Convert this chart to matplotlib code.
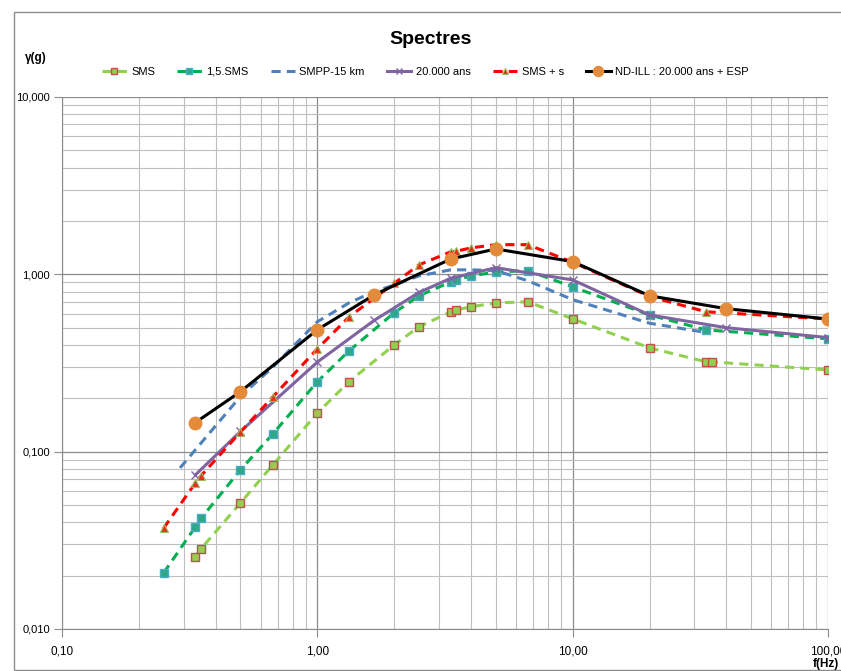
import matplotlib.pyplot as plt
from matplotlib.ticker import FixedLocator, FuncFormatter, LogLocator, NullFormatter
from matplotlib.patches import Rectangle

plt.rcParams['font.family'] = ['Liberation Sans', 'DejaVu Sans']

# SMS
f_sms = [0.333, 0.35, 0.5, 0.67, 1.0, 1.33, 2.0, 2.5, 3.33, 3.5, 4.0, 5.0, 6.67, 10.0, 20.0, 33.3, 35.0, 100.0]
g_sms = [0.0255, 0.0283, 0.0514, 0.0843, 0.165, 0.248, 0.40, 0.506, 0.614, 0.63, 0.656, 0.69, 0.70, 0.561, 0.385, 0.321, 0.321, 0.289]

# 1,5.SMS
f_sms15 = [0.25, 0.333, 0.35, 0.5, 0.67, 1.0, 1.33, 2.0, 2.5, 3.33, 3.5, 4.0, 5.0, 6.67, 10.0, 20.0, 33.3, 100.0]
g_sms15 = [0.0207, 0.0377, 0.042, 0.079, 0.126, 0.248, 0.37, 0.607, 0.756, 0.907, 0.93, 0.98, 1.03, 1.05, 0.85, 0.59, 0.486, 0.433]

# SMPP-15 km
f_smpp = [0.29, 0.5, 0.67, 1.0, 1.33, 1.67, 2.0, 2.5, 3.33, 4.0, 5.0, 6.67, 10.0, 20.0, 33.3]
g_smpp = [0.081, 0.205, 0.30, 0.54, 0.69, 0.80, 0.87, 0.98, 1.06, 1.06, 1.05, 0.92, 0.72, 0.53, 0.47]

# 20.000 ans
f_20k = [0.333, 0.5, 1.0, 1.67, 2.5, 3.33, 5.0, 10.0, 20.0, 40.0, 100.0]
g_20k = [0.074, 0.13, 0.32, 0.55, 0.79, 0.95, 1.09, 0.93, 0.59, 0.50, 0.44]

# SMS + s
f_smss = [0.25, 0.333, 0.35, 0.5, 0.67, 1.0, 1.33, 2.0, 2.5, 3.33, 3.5, 4.0, 5.0, 6.67, 10.0, 20.0, 33.3, 100.0]
g_smss = [0.037, 0.0667, 0.073, 0.129, 0.204, 0.38, 0.575, 0.89, 1.13, 1.34, 1.35, 1.41, 1.47, 1.47, 1.17, 0.75, 0.615, 0.56]

# ND-ILL : 20.000 ans + ESP
f_nd = [0.333, 0.5, 1.0, 1.67, 3.33, 5.0, 10.0, 20.0, 40.0, 100.0]
g_nd = [0.146, 0.218, 0.487, 0.766, 1.22, 1.39, 1.18, 0.757, 0.64, 0.56]

fig = plt.figure(figsize=(8.41, 6.71), dpi=100)
fig.patches.append(Rectangle((14 / 841, 1 / 671), 1.0, 1 - 13 / 671, transform=fig.transFigure,
                             fill=False, edgecolor='#8c8c8c', linewidth=1.0))
ax = fig.add_axes([62 / 841, 1 - 629 / 671, (828 - 62) / 841, (629 - 97) / 671])

ax.plot(f_sms, g_sms, linestyle=(0, (3, 2)), color='#92D050', linewidth=2.2,
        marker='s', markersize=6, markerfacecolor='#92D050', markeredgecolor='#C0504D',
        markeredgewidth=1.0, label='SMS')
ax.plot(f_sms15, g_sms15, linestyle=(0, (3, 2)), color='#00B050', linewidth=2.2,
        marker='s', markersize=6, markerfacecolor='#2FA88A', markeredgecolor='#4BACC6',
        markeredgewidth=1.0, label='1,5.SMS')
ax.plot(f_smpp, g_smpp, linestyle=(0, (3, 2)), color='#4F81BD', linewidth=2.2, label='SMPP-15 km')
ax.plot(f_20k, g_20k, linestyle='-', color='#8064A2', linewidth=2.2,
        marker='x', markersize=6, markeredgecolor='#8064A2', label='20.000 ans')
ax.plot(f_smss, g_smss, linestyle=(0, (3, 2)), color='#FF0000', linewidth=2.2,
        marker='^', markersize=6, markerfacecolor='#E03020', markeredgecolor='#9BBB59',
        markeredgewidth=0.8, label='SMS + s')
ax.plot(f_nd, g_nd, linestyle='-', color='black', linewidth=2.2,
        marker='o', markersize=9, markerfacecolor='#E38B3A', markeredgecolor='#E38B3A',
        label='ND-ILL : 20.000 ans + ESP')

ax.set_xscale('log')
ax.set_yscale('log')
ax.set_xlim(0.1, 100)
ax.set_ylim(0.01, 10)

ax.xaxis.set_major_locator(FixedLocator([0.1, 1, 10, 100]))
ax.yaxis.set_major_locator(FixedLocator([0.01, 0.1, 1, 10]))
ax.xaxis.set_minor_locator(LogLocator(base=10, subs=range(2, 10)))
ax.yaxis.set_minor_locator(LogLocator(base=10, subs=range(2, 10)))
ax.xaxis.set_minor_formatter(NullFormatter())
ax.yaxis.set_minor_formatter(NullFormatter())
ax.xaxis.set_major_formatter(FuncFormatter(lambda v, p: f'{v:.2f}'.replace('.', ',')))
ax.yaxis.set_major_formatter(FuncFormatter(lambda v, p: f'{v:.3f}'.replace('.', ',')))

ax.grid(which='major', color='#8c8c8c', linewidth=0.9)
ax.grid(which='minor', color='#bfbfbf', linewidth=0.8)
ax.set_axisbelow(True)
for side in ['top', 'right']:
    ax.spines[side].set_visible(False)
ax.spines['left'].set_color('#8c8c8c')
ax.spines['bottom'].set_color('#8c8c8c')
ax.tick_params(which='major', length=6, color='#8c8c8c')
ax.tick_params(which='minor', length=0)
ax.tick_params(axis='x', pad=6, labelsize=8.5)
ax.tick_params(axis='y', pad=2.5, labelsize=8)

fig.text(0.5 + 10 / 841, 1 - 40 / 671, 'Spectres', ha='center', va='center',
         fontsize=14, fontweight='bold')
fig.text(25 / 841, 1 - 58 / 671, 'γ(g)', ha='left', va='center', fontsize=8.5, fontweight='bold')
fig.text(839 / 841, 1 - 664 / 671, 'f(Hz)', ha='right', va='center', fontsize=8.5, fontweight='bold')

fig.legend(loc='center', bbox_to_anchor=(0.5 + 5 / 841, 1 - 72 / 671), ncol=6, frameon=False,
           fontsize=8, handlelength=2.2, columnspacing=2.0, handletextpad=0.4, markerscale=0.8)

fig.savefig('out.png', dpi=100)
